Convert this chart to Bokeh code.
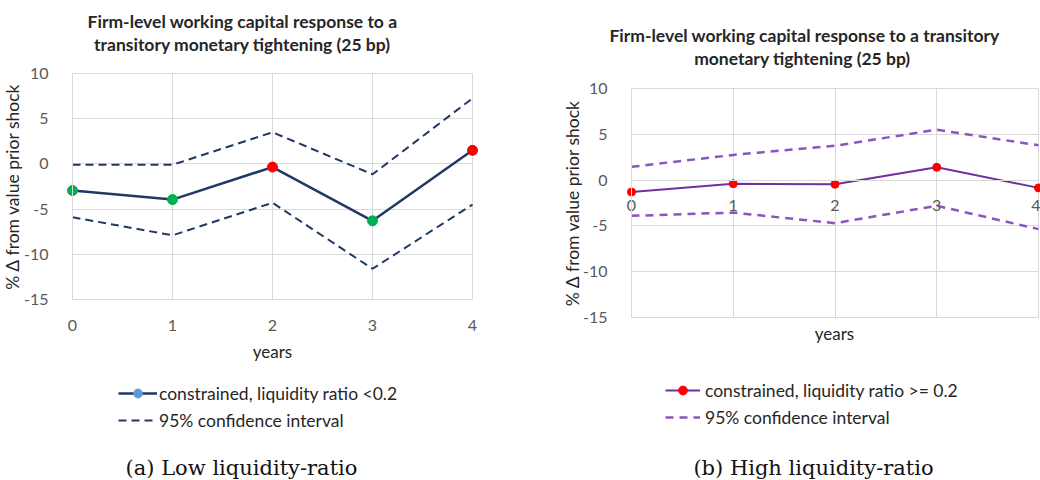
from bokeh.plotting import figure
from bokeh.models import Legend, LegendItem, Label, Range1d, FixedTicker
from bokeh.layouts import row
from bokeh.embed import file_html
from bokeh.resources import INLINE

# ---------------- data ----------------
years = [0, 1, 2, 3, 4]
year_ticks = [0, 1, 2, 3, 4]
y_ticks = [-15, -10, -5, 0, 5, 10]

low_irf = [-2.95, -3.95, -0.35, -6.3, 1.5]
low_upper = [-0.1, -0.1, 3.5, -1.15, 7.25]
low_lower = [-5.9, -7.9, -4.3, -11.6, -4.5]
low_marker_colors = ["#00B050", "#00B050", "#FF0000", "#00B050", "#FF0000"]

high_irf = [-1.3, -0.4, -0.45, 1.4, -0.85]
high_upper = [1.45, 2.75, 3.75, 5.5, 3.8]
high_lower = [-3.9, -3.55, -4.7, -2.8, -5.35]

title_low = ["Firm-level working capital response to a",
             "transitory monetary tightening (25 bp)"]
title_high = ["Firm-level working capital response to a transitory",
              "monetary tightening  (25 bp)"]
legend_low = ["constrained, liquidity ratio <0.2", "95% confidence interval"]
legend_high = ["constrained, liquidity ratio >= 0.2", "95% confidence interval"]
caption_low = "(a) Low liquidity-ratio"
caption_high = "(b) High liquidity-ratio"
x_title = "years"
y_title = "% \u0394 from value prior shock"

FONT = "Lato"
SERIF = "DejaVu Serif"
GRID = "#D9D9D9"
TICK_COL = "#595959"
TEXT_COL = "#262626"


def px_range(d0, d1, p0, p1, total):
    """Range whose ends sit at screen 0 and `total` so that d0 -> p0 and d1 -> p1."""
    k = (p1 - p0) / (d1 - d0)
    return Range1d(d0 - p0 / k, d1 + (total - p1) / k)


def base_fig(width, xr, yr):
    p = figure(width=width, height=480, output_backend="svg", toolbar_location=None,
               x_range=xr, y_range=yr, min_border=0,
               min_border_left=0, min_border_right=0,
               min_border_top=0, min_border_bottom=0)
    p.outline_line_color = None
    p.background_fill_color = "white"
    p.border_fill_color = "white"
    p.xaxis.ticker = FixedTicker(ticks=year_ticks)
    p.yaxis.ticker = FixedTicker(ticks=y_ticks)
    p.yaxis.major_label_overrides = {t: str(t) for t in y_ticks}
    p.xaxis.bounds = (min(year_ticks), max(year_ticks))
    p.yaxis.bounds = (min(y_ticks), max(y_ticks))
    p.yaxis.fixed_location = min(year_ticks)
    for ax in (p.xaxis[0], p.yaxis[0]):
        ax.major_tick_line_color = None
        ax.minor_tick_line_color = None
        ax.axis_line_color = GRID
        ax.major_label_text_font = FONT
        ax.major_label_text_font_size = "16px"
        ax.major_label_text_color = TICK_COL
        ax.axis_label_text_font = FONT
        ax.axis_label_text_font_style = "normal"
        ax.axis_label_text_color = TEXT_COL
    p.yaxis.axis_label = y_title
    p.yaxis.axis_label_text_font_size = "17.5px"
    p.yaxis.major_label_standoff = 18
    xg, yg = p.xgrid[0], p.ygrid[0]
    xg.grid_line_color = GRID
    yg.grid_line_color = GRID
    xg.ticker = FixedTicker(ticks=year_ticks)
    yg.ticker = FixedTicker(ticks=y_ticks)
    xg.bounds = (min(year_ticks), max(year_ticks))
    yg.bounds = (min(y_ticks), max(y_ticks))
    if "cross_bounds" in xg.properties():
        xg.cross_bounds = (min(y_ticks), max(y_ticks))
        yg.cross_bounds = (min(year_ticks), max(year_ticks))
    else:
        xg.visible = False
        yg.visible = False
        p.segment(x0=year_ticks, x1=year_ticks, y0=[min(y_ticks)] * len(year_ticks),
                  y1=[max(y_ticks)] * len(year_ticks), line_color=GRID, line_width=1)
        p.segment(x0=[min(year_ticks)] * len(y_ticks), x1=[max(year_ticks)] * len(y_ticks),
                  y0=y_ticks, y1=y_ticks, line_color=GRID, line_width=1)
    return p


def add_label(p, text, x, y, font=FONT, size="14px", style="normal", color=TEXT_COL):
    p.add_layout(Label(x=x, y=y, x_units="screen", y_units="screen", text=text,
                       text_font=font, text_font_size=size, text_font_style=style,
                       text_color=color, text_align="center", text_baseline="middle"))


def make_legend(items, loc, glyph_w, standoff):
    return Legend(items=items, location=loc, padding=0, margin=0, spacing=5,
                  glyph_width=glyph_w, glyph_height=22, label_height=22,
                  label_standoff=standoff,
                  border_line_color=None, background_fill_alpha=0,
                  label_text_font=FONT, label_text_font_size="17.5px",
                  label_text_color=TEXT_COL)


# ---------------- left panel (canvas x 0..530) ----------------
NAVY = "#1F3864"
yr_l = px_range(10, -15, 73, 299, 480)
pl = base_fig(530, px_range(0, 4, 72, 472, 530), Range1d(yr_l.end, yr_l.start))
pl.xaxis.fixed_location = min(y_ticks)
pl.xaxis.axis_label = x_title
pl.xaxis.axis_label_text_font_size = "17px"
pl.xaxis.major_label_standoff = 14
pl.xaxis.axis_label_standoff = 7
pl.yaxis.axis_label_standoff = -2

up_l = pl.line(years, low_upper, line_color=NAVY, line_width=2, line_dash="8 5")
pl.line(years, low_lower, line_color=NAVY, line_width=2, line_dash="8 5")
main_l = pl.line(years, low_irf, line_color=NAVY, line_width=2.5)
legend_marker_l = pl.scatter(years, low_irf, size=8, fill_color="#5B9BD5",
                             line_color="#5B9BD5")
pl.scatter(years, low_irf, size=10, fill_color=low_marker_colors,
           line_color=low_marker_colors)

pl.add_layout(make_legend([LegendItem(label=legend_low[0], renderers=[main_l, legend_marker_l]),
                           LegendItem(label=legend_low[1], renderers=[up_l])],
                          (118, 49), 39, 2), "center")

add_label(pl, title_low[0], 242, 459, size="17.5px", style="bold")
add_label(pl, title_low[1], 242, 436, size="17.5px", style="bold")
add_label(pl, caption_low, 241, 13, font=SERIF, size="21px", color="#111111")

# ---------------- right panel (canvas x 530..1040) ----------------
PURPLE = "#7030A0"
PURPLE_D = "#8A55C0"
xr_r = px_range(0, 4, 101, 508, 510)
yr_r = px_range(10, -15, 88, 317, 480)
pr = base_fig(510, xr_r, Range1d(yr_r.end, yr_r.start))
pr.xaxis.fixed_location = 0
pr.xaxis.major_label_standoff = 14
pr.yaxis.axis_label_standoff = -3

up_r = pr.line(years, high_upper, line_color=PURPLE_D, line_width=2.5, line_dash="8 6")
pr.line(years, high_lower, line_color=PURPLE_D, line_width=2.5, line_dash="8 6")
main_r = pr.line(years, high_irf, line_color=PURPLE, line_width=2)
mk_r = pr.scatter(years, high_irf, size=8, fill_color="#FF0000", line_color="#FF0000")

pr.add_layout(make_legend([LegendItem(label=legend_high[0], renderers=[main_r, mk_r]),
                           LegendItem(label=legend_high[1], renderers=[up_r])],
                          (135, 52), 35, 5), "center")

add_label(pr, x_title, 304, 147, size="17px")
add_label(pr, title_high[0], 274, 445, size="17.5px", style="bold")
add_label(pr, title_high[1], 274, 422, size="17.5px", style="bold")
add_label(pr, caption_high, 283, 13, font=SERIF, size="21px", color="#111111")

layout = row(pl, pr)
open("out.html", "w").write(file_html(layout, INLINE))
